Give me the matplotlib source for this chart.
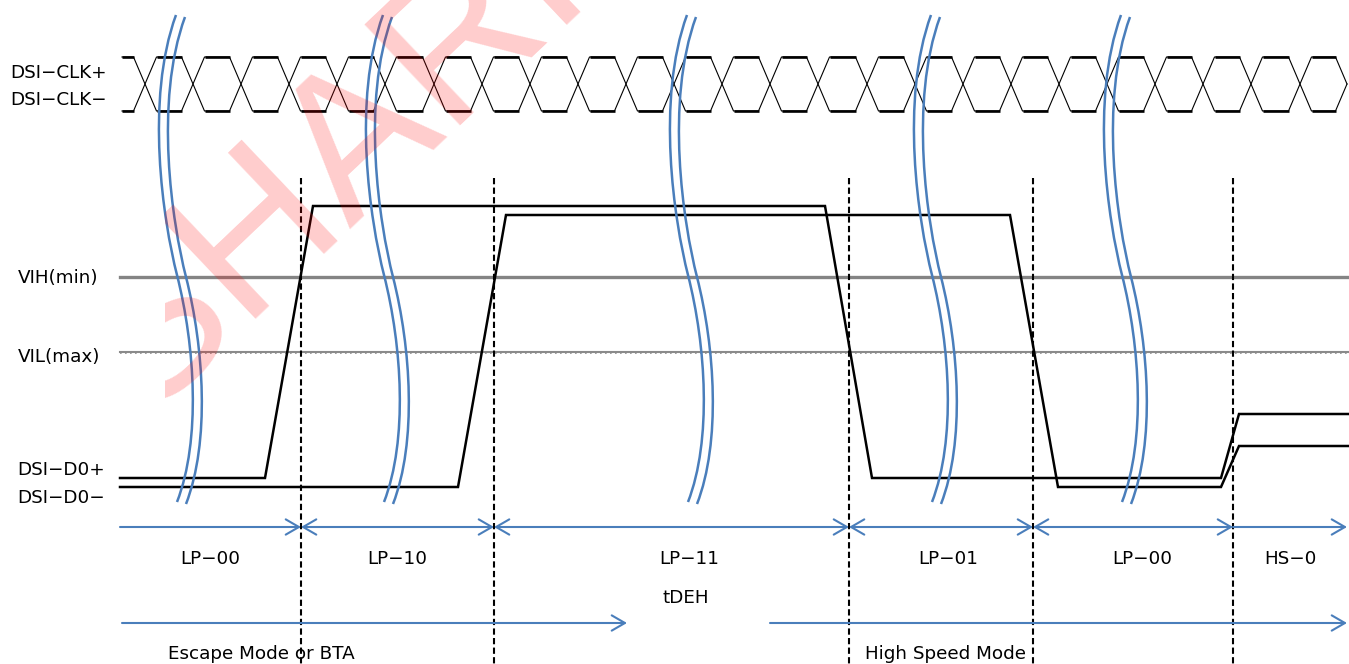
import matplotlib
matplotlib.use("Agg")
import matplotlib.pyplot as plt
from matplotlib.patches import FancyArrowPatch, ArrowStyle, PathPatch
from matplotlib.path import Path
from matplotlib.transforms import Bbox

# ---------------------------------------------------------------
# Timing values (horizontal = time position, vertical = level on
# the drawing, growing downwards)
# ---------------------------------------------------------------
clk_high, clk_low = 57, 111
clk_start, clk_stop = 122, 1347
clk_edges = [145, 193, 241, 289, 337, 385, 434, 482, 530, 578, 626, 674, 722,
             770, 818, 867, 915, 963, 1011, 1059, 1107, 1155, 1203, 1251, 1300]
clk_ramp = 11.5  # half of the clock transition width

d0p_t = [120, 265, 313, 825, 872, 1221, 1239, 1349]
d0p_v = [478, 478, 206, 206, 478, 478, 414, 414]
d0n_t = [120, 458, 506, 1010, 1058, 1221, 1239, 1349]
d0n_v = [487, 487, 215, 215, 487, 487, 446, 446]

vih_level, vil_level = 277, 352
state_bounds = [301, 494, 849, 1033, 1233]
break_marks = [177, 384, 688, 932, 1122]

lane_labels = ["DSI\u2212CLK+", "DSI\u2212CLK\u2212", "VIH(min)", "VIL(max)",
               "DSI\u2212D0+", "DSI\u2212D0\u2212"]
lane_label_x = [10, 10, 18, 18, 17, 17]
lane_label_y = [78, 105, 283, 362, 475, 503]

state_labels = ["LP\u221200", "LP\u221210", "LP\u221211", "LP\u221201", "LP\u221200", "HS\u22120"]
state_label_x = [210, 397, 689, 948, 1142, 1290]
state_row_y, state_label_y = 527, 564
state_spans = [(120, 301, "->"), (301, 494, "<->"), (494, 849, "<->"),
               (849, 1033, "<->"), (1033, 1233, "<->"), (1233, 1347, "->")]

mode_row_y = 623
mode_spans = [(122, 627), (770, 1347)]
mode_labels = ["Escape Mode or BTA", "High Speed Mode"]
mode_label_x = [168, 865]
mode_label_y = 659

blue = "#4a7ebb"
font = dict(family="DejaVu Sans", fontsize=13.2, color="black")

fig = plt.figure(figsize=(13.49, 6.64), dpi=100)
ax = fig.add_axes([0, 0, 1, 1])
ax.set_xlim(0, 1349)
ax.set_ylim(664, 0)
ax.axis("off")

# ---------------- differential clock ----------------
clk_mid = (clk_high + clk_low) / 2


def clock_trace(first_level, other_level):
    xs, ys = [clk_start], [first_level]
    level, nxt = first_level, other_level
    for e in clk_edges:
        xs += [e - clk_ramp, e + clk_ramp]
        ys += [level, nxt]
        level, nxt = nxt, level
    xs += [clk_stop - clk_ramp, clk_stop]
    ys += [level, clk_mid]
    return xs, ys


for a, b in [(clk_high, clk_low), (clk_low, clk_high)]:
    xs, ys = clock_trace(a, b)
    ax.plot(xs, ys, color="black", lw=0.8, solid_joinstyle="miter", zorder=3)
    # flat parts are drawn heavier
    for i in range(0, len(xs) - 1, 2):
        if ys[i] == ys[i + 1]:
            ax.plot([xs[i], xs[i + 1]], [ys[i], ys[i + 1]], color="black",
                    lw=1.9, solid_capstyle="butt", zorder=3)

# ---------------- input thresholds ----------------
ax.plot([120, 1349], [vih_level, vih_level], color="#848484", lw=2.4, zorder=2)
ax.plot([120, 1349], [vil_level, vil_level], color="#8a8a8a", lw=1.5, zorder=2)
ax.plot([120, 1349], [vil_level + 1, vil_level + 1], color="#222222", lw=0.6,
        dashes=(1, 5), zorder=2)

# ---------------- data lane ----------------
ax.plot(d0p_t, d0p_v, color="black", lw=1.8, solid_joinstyle="miter", zorder=4)
ax.plot(d0n_t, d0n_v, color="black", lw=1.8, solid_joinstyle="miter", zorder=4)

# ---------------- state boundaries ----------------
for x in state_bounds:
    ax.plot([x, x], [178, 664], color="black", lw=1.5, dashes=(3, 1.6), zorder=4)

# ---------------- time-break marks (double S-shaped lines) ----------------
brk_dx = [-1, -32, -14, 0, 18, 24, 0]
brk_dy = [15, 100, 220, 275, 346, 440, 502]
brk_codes = [Path.MOVETO] + [Path.CURVE4] * 6
for xc in break_marks:
    for off_x, off_y in [(0, 0), (9, 2)]:
        verts = [(xc + dx + off_x, dy + off_y) for dx, dy in zip(brk_dx, brk_dy)]
        ax.add_patch(PathPatch(Path(verts, brk_codes), fill=False, edgecolor=blue,
                               lw=1.8, zorder=5))

# ---------------- state arrows ----------------
for x0, x1, style in state_spans:
    ax.add_patch(FancyArrowPatch((x0, state_row_y), (x1, state_row_y),
                                 arrowstyle=ArrowStyle(style, head_length=9.5, head_width=5.5),
                                 mutation_scale=1, lw=1.5, color=blue,
                                 shrinkA=0, shrinkB=0, zorder=5))
for x0, x1 in mode_spans:
    ax.add_patch(FancyArrowPatch((x0, mode_row_y), (x1, mode_row_y),
                                 arrowstyle=ArrowStyle("->", head_length=9.5, head_width=5.5),
                                 mutation_scale=1, lw=1.5, color=blue,
                                 shrinkA=0, shrinkB=0, zorder=5))

# ---------------- text ----------------
for t, x, y in zip(lane_labels, lane_label_x, lane_label_y):
    ax.text(x, y, t, ha="left", va="baseline", **font)
for t, x in zip(state_labels, state_label_x):
    ax.text(x, state_label_y, t, ha="center", va="baseline", **font)
ax.text(686, 603, "tDEH", ha="center", va="baseline", **font)
for t, x in zip(mode_labels, mode_label_x):
    ax.text(x, mode_label_y, t, ha="left", va="baseline", **font)

# ---------------- watermark ----------------
wm = ax.text(362, 138, "SHARP", family="Liberation Sans", fontsize=146,
             color="red", alpha=0.2, rotation=43.5, rotation_mode="anchor",
             ha="center", va="center", zorder=10)
wm.set_clip_on(True)
wm.set_clip_box(Bbox.from_extents(165, -100, 1500, 800))

fig.savefig("out.png", dpi=100)
